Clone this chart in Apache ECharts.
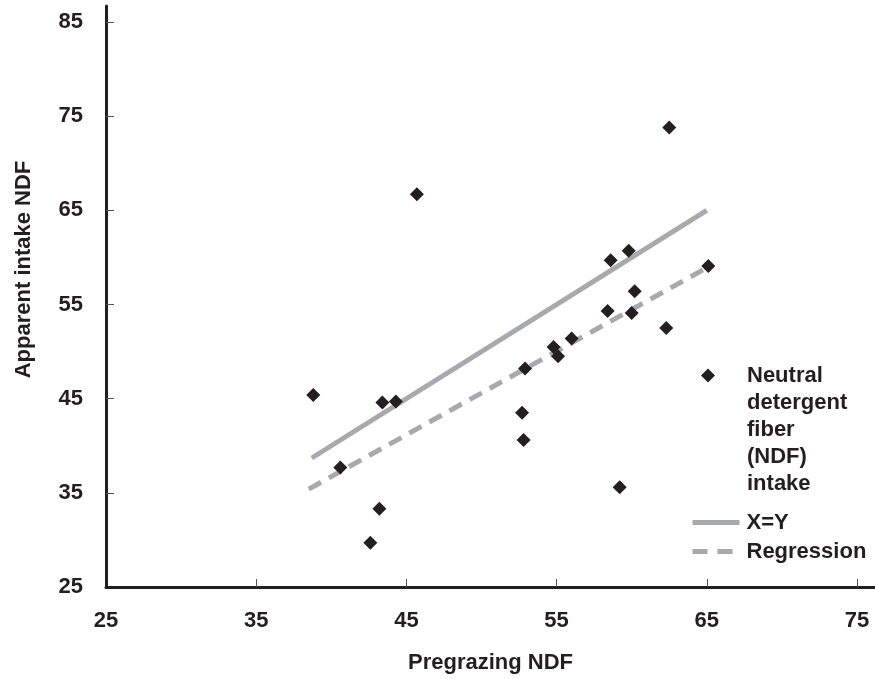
<!DOCTYPE html>
<html>
<head>
<meta charset="utf-8">
<script src="https://cdn.jsdelivr.net/npm/echarts@6/dist/echarts.min.js"></script>
<style>
  html, body { margin: 0; padding: 0; background: #fff; }
  #chart { width: 875px; height: 679px; }
</style>
</head>
<body>
<div id="chart"></div>
<script>
// values
const pregrazingNDF = [38.8, 40.6, 43.2, 42.6, 43.4, 44.3, 45.7, 52.9, 52.7, 52.8, 54.8,
  55.1, 56.0, 59.2, 58.6, 59.8, 62.5, 65.1, 60.2, 58.4, 60.0, 62.3];
const intakeNDF = [45.4, 37.7, 33.3, 29.7, 44.6, 44.7, 66.7, 48.2, 43.5, 40.6, 50.5,
  49.5, 51.4, 35.6, 59.7, 60.7, 73.8, 59.1, 56.4, 54.3, 54.1, 52.5];
const equalityX = [38.7, 65.0];
const regressionX = [38.5, 65.0];
const regressionY = [35.4, 58.9];
const xTicks = [25, 35, 45, 55, 65, 75];
const yTicks = [25, 35, 45, 55, 65, 75, 85];

const ink = "#231f20";
const grey = "#a7a9ac";
const font = "'Liberation Sans', Arial, sans-serif";

const chart = echarts.init(document.getElementById("chart"));

const legendText = {
  color: ink, fontSize: 22, fontWeight: "bold", fontFamily: font,
  lineHeight: 27,
};

const option = {
  animation: false,
  grid: { left: 106, right: 0, top: 6, bottom: 88 },
  xAxis: {
    type: "value",
    min: 25,
    max: 76.2,
    name: "Pregrazing NDF",
    nameLocation: "middle",
    nameGap: 65,
    nameTextStyle: { color: ink, fontSize: 22, fontWeight: "bold", fontFamily: font },
    axisLine: { lineStyle: { color: ink, width: 3 } },
    axisTick: {
      inside: true, length: 8,
      customValues: xTicks.slice(1),
      lineStyle: { color: "#555", width: 1 },
    },
    axisLabel: {
      customValues: xTicks,
      margin: 23,
      color: ink, fontSize: 22, fontWeight: "bold", fontFamily: font,
    },
    splitLine: { show: false },
  },
  yAxis: {
    type: "value",
    min: 25,
    max: 86.7,
    name: "Apparent intake NDF",
    nameLocation: "middle",
    nameGap: 71,
    nameTextStyle: {
      color: ink, fontSize: 22, fontWeight: "bold", fontFamily: font,
      padding: [0, 0, 0, 54], // nudge the title up a bit
    },
    axisLine: { show: true, lineStyle: { color: ink, width: 3 } },
    axisTick: {
      show: true, inside: true, length: 8,
      customValues: yTicks.slice(1),
      lineStyle: { color: "#555", width: 1 },
    },
    axisLabel: {
      customValues: yTicks,
      margin: 23,
      color: ink, fontSize: 22, fontWeight: "bold", fontFamily: font,
    },
    splitLine: { show: false },
  },
  legend: [
    {
      data: ["Neutral detergent fiber (NDF) intake"],
      left: 701, top: 254, padding: 0,
      selectedMode: false,
      itemWidth: 14, itemHeight: 14,
      // blank lines above so the diamond sits level with the first word
      formatter: (name) => "\n\n\n\n" + name.split(" ").join("\n"),
      itemStyle: { opacity: 1 },
      textStyle: Object.assign({ padding: [0, 0, 0, 27] }, legendText),
    },
    {
      data: ["X=Y"],
      left: 690, top: 509, padding: 0,
      selectedMode: false,
      itemWidth: 47, itemHeight: 14,
      itemStyle: { opacity: 0 },
      lineStyle: { width: 5 },
      textStyle: Object.assign({ padding: [0, 0, 0, 2] }, legendText),
    },
    {
      data: ["Regression"],
      left: 690, top: 538, padding: 0,
      selectedMode: false,
      itemWidth: 47, itemHeight: 14,
      itemStyle: { opacity: 0 },
      lineStyle: { width: 5, type: [15, 10] },
      textStyle: Object.assign({ padding: [0, 0, 0, 2] }, legendText),
    },
  ],
  series: [
    {
      type: "line",
      name: "X=Y",
      data: equalityX.map((x) => [x, x]),
      symbol: "none",
      lineStyle: { color: grey, width: 5 },
      itemStyle: { color: grey },
      z: 1,
    },
    {
      type: "line",
      name: "Regression",
      data: regressionX.map((x, i) => [x, regressionY[i]]),
      symbol: "none",
      lineStyle: { color: grey, width: 5, type: [14, 9] },
      itemStyle: { color: grey },
      z: 1,
    },
    {
      type: "scatter",
      name: "Neutral detergent fiber (NDF) intake",
      data: pregrazingNDF.map((x, i) => [x, intakeNDF[i]]),
      symbol: "diamond",
      symbolSize: 14,
      itemStyle: { color: ink, opacity: 1 },
      z: 3,
    },
  ],
};

chart.setOption(option);
window.addEventListener("resize", () => {
  chart.resize();
});
</script>
</body>
</html>
